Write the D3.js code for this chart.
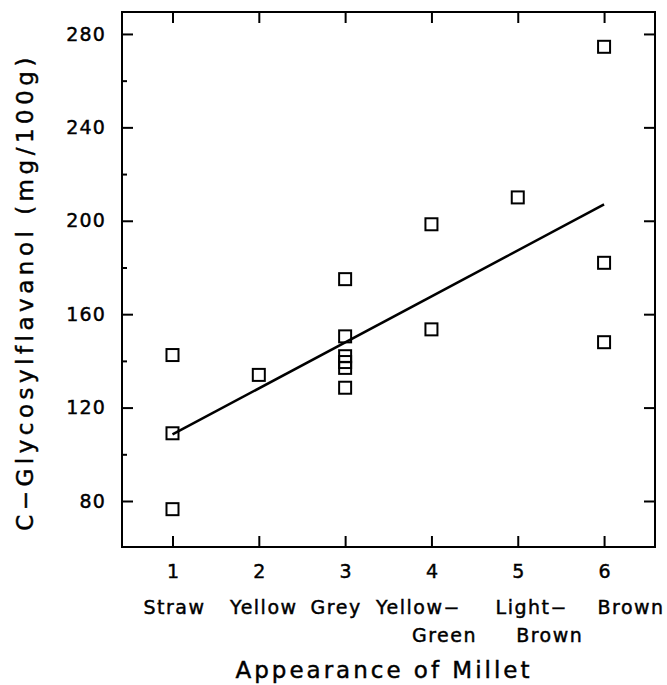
<!DOCTYPE html>
<html>
<head>
<meta charset="utf-8">
<script src="https://cdn.jsdelivr.net/npm/d3@7"></script>
<style>
  html, body { margin: 0; padding: 0; background: #fff; }
  svg text { font-family: "DejaVu Sans", sans-serif; fill: #000; stroke: #000; stroke-width: 0.45px; }
</style>
</head>
<body>
<svg id="chart" width="667" height="685"></svg>
<script>
// ---- data ----
const appearance = [1, 1, 1, 2, 3, 3, 3, 3, 3, 3, 4, 4, 5, 6, 6, 6];
const flavanol   = [142.5, 109, 76.5, 134, 175, 150.5, 142, 139.5, 137, 128.5, 198.5, 153.5, 210, 274.5, 182, 148];
const fitX = [1, 6];
const fitY = [108.5, 207];
const xTicks = [1, 2, 3, 4, 5, 6];
const yTicks = [80, 120, 160, 200, 240, 280];
const yMinorTicks = [100, 140, 180, 220, 260];
const categoryLine1 = ["Straw", "Yellow", "Grey", "Yellow\u2212", "Light\u2212", "Brown"];
const categoryLine2 = ["", "", "", "Green", "Brown", ""];
const xTitle = "Appearance of Millet";
const yTitle = "C\u2212Glycosylflavanol (mg/100g)";

// ---- layout ----
const mLeft = 122, mRight = 655, mTop = 12, mBottom = 547;
const label1Shift = [2, 5, -9, -13, 14, 27];
const label2Shift = [0, 0, 0, 13, 32, 0];

const svg = d3.select("#chart");
const x = d3.scaleLinear().domain([0.415, 6.59]).range([mLeft, mRight]);
const y = d3.scaleLinear().domain([60.3, 289.4]).range([mBottom, mTop]);

// frame
svg.append("rect")
  .attr("x", mLeft).attr("y", mTop)
  .attr("width", mRight - mLeft).attr("height", mBottom - mTop)
  .attr("fill", "none").attr("stroke", "#000").attr("stroke-width", 2);

const tickLen = 11;
function styleAxis(g) {
  g.select(".domain").remove();
  g.selectAll(".tick line").attr("stroke", "#000").attr("stroke-width", 2);
}

// left axis (inward ticks) with labels
const gl = svg.append("g").attr("transform", `translate(${mLeft},0)`)
  .call(d3.axisLeft(y).tickValues(yTicks).tickSize(-tickLen).tickPadding(16).tickFormat(d3.format("d")));
styleAxis(gl);
gl.selectAll(".tick text").attr("font-size", 19).attr("letter-spacing", 1.2).attr("font-family", "DejaVu Sans");

// left minor ticks
svg.append("g").attr("transform", `translate(${mLeft},0)`)
  .call(d3.axisLeft(y).tickValues(yMinorTicks).tickSize(-5).tickFormat(""))
  .call(styleAxis);

// right axis
svg.append("g").attr("transform", `translate(${mRight},0)`)
  .call(d3.axisRight(y).tickValues(yTicks).tickSize(-tickLen).tickFormat(""))
  .call(styleAxis);

// top axis
svg.append("g").attr("transform", `translate(0,${mTop})`)
  .call(d3.axisTop(x).tickValues(xTicks).tickSize(-tickLen).tickFormat(""))
  .call(styleAxis);

// bottom axis with labels
const gb = svg.append("g").attr("transform", `translate(0,${mBottom})`)
  .call(d3.axisBottom(x).tickValues(xTicks).tickSize(-tickLen).tickPadding(18).tickFormat(d3.format("d")));
styleAxis(gb);
gb.selectAll(".tick text").attr("font-size", 19).attr("font-family", "DejaVu Sans");

// category labels
svg.append("g").selectAll("text").data(xTicks).join("text")
  .attr("x", (d, i) => x(d) + label1Shift[i])
  .attr("y", 614)
  .attr("text-anchor", "middle")
  .attr("font-size", 19).attr("letter-spacing", 1.5)
  .text((d, i) => categoryLine1[i]);
svg.append("g").selectAll("text").data(xTicks).join("text")
  .attr("x", (d, i) => x(d) + label2Shift[i])
  .attr("y", 642)
  .attr("text-anchor", "middle")
  .attr("font-size", 19).attr("letter-spacing", 1.5)
  .text((d, i) => categoryLine2[i]);

// axis titles
svg.append("text")
  .attr("x", 384).attr("y", 678)
  .attr("text-anchor", "middle")
  .attr("font-size", 23).attr("letter-spacing", 3)
  .text(xTitle);
svg.append("text")
  .attr("transform", `translate(33,292) rotate(-90)`)
  .attr("text-anchor", "middle")
  .attr("font-size", 23).attr("letter-spacing", 4.5)
  .text(yTitle);

// regression line
svg.append("path")
  .datum(fitX.map((v, i) => [v, fitY[i]]))
  .attr("d", d3.line().x(d => x(d[0])).y(d => y(d[1])))
  .attr("fill", "none").attr("stroke", "#000").attr("stroke-width", 2.5);

// points
const s = 12;
svg.append("g").selectAll("rect").data(appearance.map((v, i) => [v, flavanol[i]])).join("rect")
  .attr("x", d => x(d[0]) - s / 2)
  .attr("y", d => y(d[1]) - s / 2)
  .attr("width", s).attr("height", s)
  .attr("fill", "none").attr("stroke", "#000").attr("stroke-width", 2);
</script>
</body>
</html>
